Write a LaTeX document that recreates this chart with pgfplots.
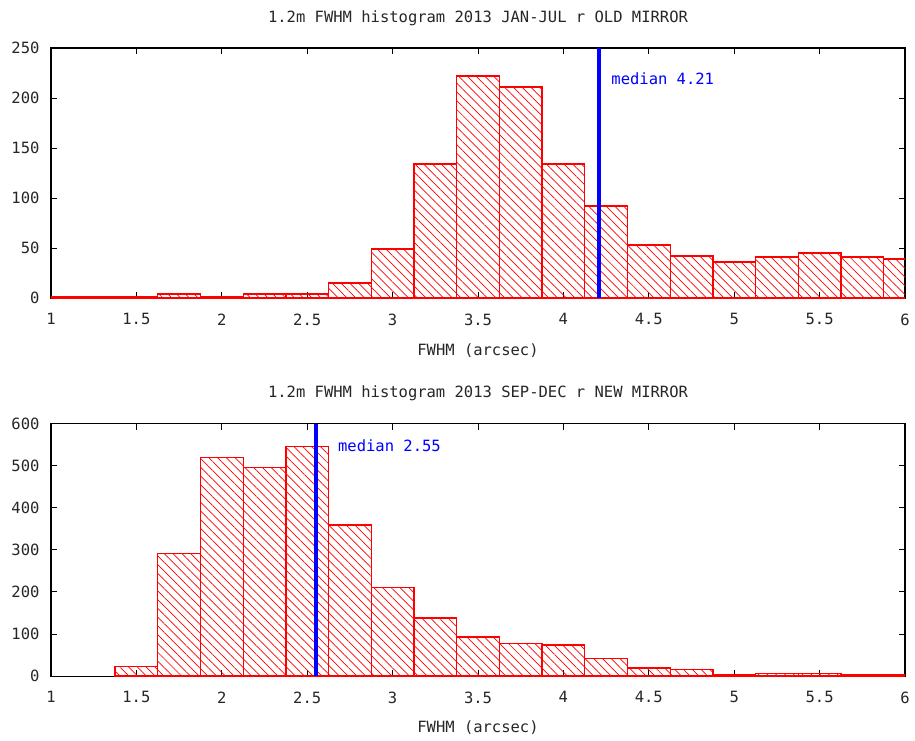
\documentclass[border=0pt]{standalone}
\usepackage{fontspec}
\setmainfont{DejaVu Sans Mono}
\usepackage{pgfplots}
\pgfplotsset{compat=1.18}
\usetikzlibrary{patterns.meta}
\definecolor{gpred}{RGB}{255,0,0}
\definecolor{gpblue}{RGB}{0,0,255}
\begin{document}
\begin{tikzpicture}
\pgfplotsset{
  gp/.style={
    scale only axis, width=854pt,
    xmin=1, xmax=6,
    xtick={1,1.5,2,2.5,3,3.5,4,4.5,5,5.5,6},
    tick align=inside, major tick length=6pt,
    axis line style={line width=1.2pt, black},
    every tick/.style={black, line width=1pt},
    /pgf/number format/assume math mode=true,
    tick label style={font=\fontsize{15.5}{18}\selectfont, text=black!85},
    xticklabel style={yshift=-12pt},
    yticklabel style={xshift=-8pt},
    title style={at={(axis description cs:0.5,1)}, anchor=base, yshift=20pt, font=\fontsize{15.5}{18}\selectfont, text=black!85},
    xlabel style={at={(axis description cs:0.5,0)}, anchor=base, yshift=-57pt, font=\fontsize{15.5}{18}\selectfont, text=black!85},
    xlabel={FWHM (arcsec)},
  },
  hist/.style={ybar interval, draw=gpred, line width=1.3pt,
    pattern={Lines[angle=-45,distance=6.2pt,line width=0.7pt]}, pattern color=gpred},
}
\begin{axis}[gp, at={(0pt,0pt)}, anchor=north west, height=250pt,
  ymin=0, ymax=250, ytick={0,50,100,150,200,250},
  title={1.2m FWHM histogram 2013 JAN-JUL r OLD MIRROR}]
\addplot[hist] coordinates {
(0.875,1) (1.125,1) (1.375,1) (1.625,4) (1.875,1) (2.125,4) (2.375,4)
(2.625,15) (2.875,49) (3.125,134) (3.375,222) (3.625,211) (3.875,134)
(4.125,92) (4.375,53) (4.625,42) (4.875,36) (5.125,41) (5.375,45)
(5.625,41) (5.875,39) (6.125,0)};
\addplot[gpblue, line width=4pt] coordinates {(4.21,0) (4.21,250)};
\node[anchor=west, text=gpblue, font=\fontsize{15.5}{18}\selectfont, inner sep=0pt] at (axis cs:4.28,219) {median 4.21};
\end{axis}
\begin{axis}[gp, at={(0pt,-375.5pt)}, anchor=north west, height=252.6pt,
  ymin=0, ymax=600, ytick={0,100,200,300,400,500,600},
  xlabel style={yshift=1pt},
  title={1.2m FWHM histogram 2013 SEP-DEC r NEW MIRROR}]
\addplot[hist] coordinates {
(1.375,23) (1.625,292) (1.875,520) (2.125,496) (2.375,546) (2.625,359)
(2.875,210) (3.125,138) (3.375,93) (3.625,78) (3.875,74) (4.125,41)
(4.375,19) (4.625,15) (4.875,4) (5.125,7) (5.375,7) (5.625,3) (5.875,3)
(6.125,0)};
\addplot[gpblue, line width=4pt] coordinates {(2.55,0) (2.55,600)};
\node[anchor=west, text=gpblue, font=\fontsize{15.5}{18}\selectfont, inner sep=0pt] at (axis cs:2.68,547) {median 2.55};
\end{axis}
\path (-51pt,48pt) rectangle (864pt,-692pt);
\end{tikzpicture}
\end{document}
